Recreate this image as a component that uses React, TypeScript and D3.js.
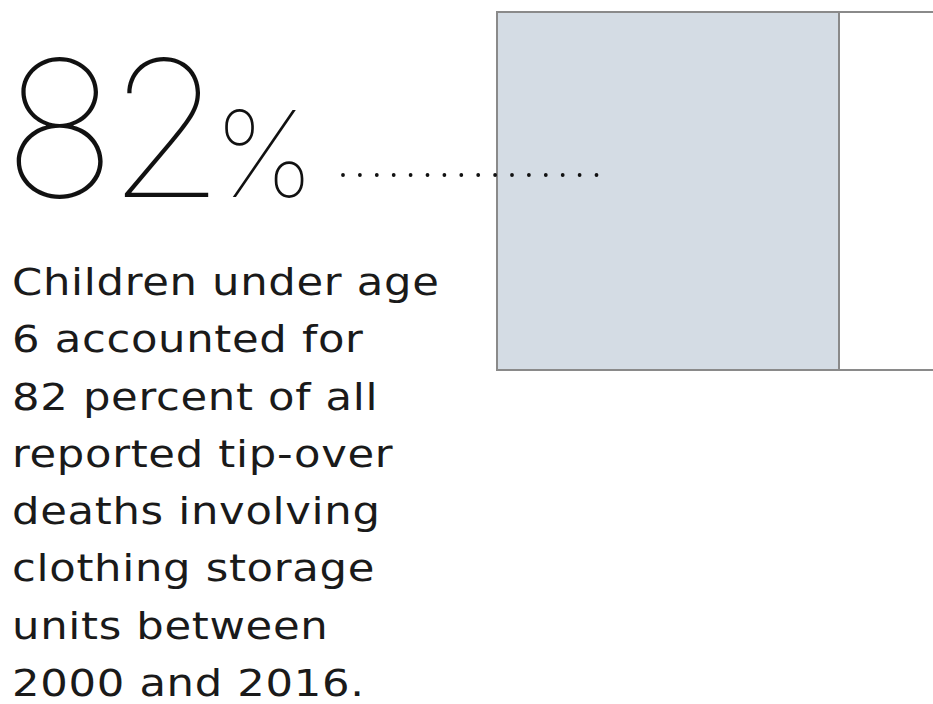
import { useRef, useEffect } from 'react';
import * as d3 from 'd3';

const W = 933;
const H = 704;

// Share of tip-over deaths: children under 6 vs. all
const shareLabels = ['Under age 6', 'All ages'];
const shareValues = [82, 100];

const bigNumber = '82';
const bigUnit = '%';

const descriptionLines = [
  'Children under age',
  '6 accounted for',
  '82 percent of all',
  'reported tip-over',
  'deaths involving',
  'clothing storage',
  'units between',
  '2000 and 2016.',
];

const FILL = '#d4dce4';
const BORDER = '#8a8a8a';
const FONT_THIN = 'Inter, sans-serif';
const FONT_BODY = '"DejaVu Sans", sans-serif';

const App = () => {
  const svgRef = useRef<SVGSVGElement>(null);

  useEffect(() => {
    const svg = d3.select(svgRef.current);
    svg.selectAll('*').remove();

    // horizontal scale for the part-of-whole box
    const x = d3.scaleLinear().domain([0, 82]).range([497, 839]);
    const top = 12;
    const bottom = 370;

    const g = svg.append('g');

    // outer (whole) box, runs past the right edge
    g.append('rect')
      .attr('x', x(0))
      .attr('y', top)
      .attr('width', x(shareValues[1] * 1.2) - x(0))
      .attr('height', bottom - top)
      .attr('fill', '#fff')
      .attr('stroke', BORDER)
      .attr('stroke-width', 2);

    // filled share
    g.append('rect')
      .datum(shareValues[0])
      .attr('x', x(0))
      .attr('y', top)
      .attr('width', (d: number) => x(d) - x(0))
      .attr('height', bottom - top)
      .attr('fill', FILL)
      .attr('stroke', BORDER)
      .attr('stroke-width', 2)
      .append('title')
      .text(`${shareLabels[0]}: ${shareValues[0]}%`);

    // dotted leader
    g.append('line')
      .attr('x1', 343)
      .attr('x2', 597)
      .attr('y1', 175)
      .attr('y2', 175)
      .attr('stroke', '#111')
      .attr('stroke-width', 3.8)
      .attr('stroke-linecap', 'round')
      .attr('stroke-dasharray', '0 16.9');

    // big number
    const big = g.append('text')
      .attr('x', 3)
      .attr('y', 197)
      .attr('font-family', FONT_THIN)
      .attr('font-weight', 100)
      .attr('fill', '#111');
    big.append('tspan')
      .attr('font-size', 190)
      .attr('letter-spacing', -9)
      .text(bigNumber);
    big.append('tspan').attr('font-size', 120).attr('dx', -3).text(bigUnit);

    // description (font widened to match the round geometric face)
    g.append('g')
      .attr('transform', 'translate(12,0) scale(1.14,1)')
      .selectAll('text')
      .data(descriptionLines)
      .join('text')
      .attr('x', 0)
      .attr('y', (_d, i) => 295 + i * 57.3)
      .attr('font-family', FONT_BODY)
      .attr('font-size', 38)
      .attr('letter-spacing', 0.6)
      .attr('fill', '#1a1a1a')
      .text((d) => d);
  }, []);

  return (
    <svg
      ref={svgRef}
      width={W}
      height={H}
      style={{ position: 'absolute', left: 0, top: 0, background: '#fff' }}
    />
  );
};

export default App;
